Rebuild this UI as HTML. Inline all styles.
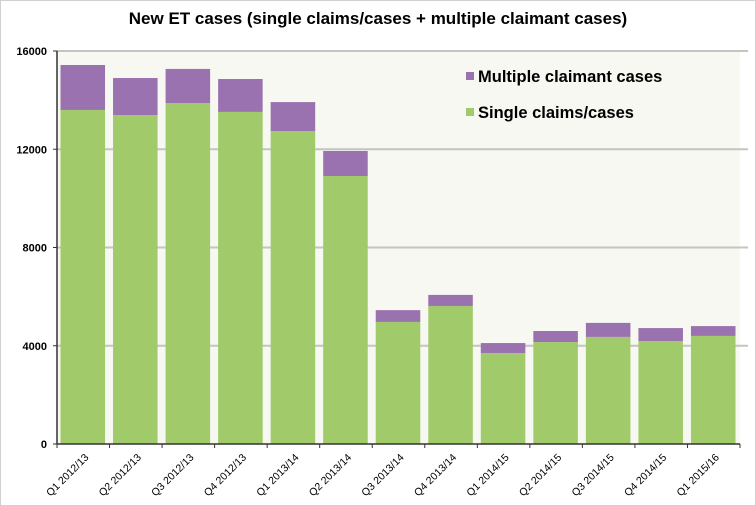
<!DOCTYPE html>
<html><head><meta charset="utf-8"><style>
body{margin:0;background:#fff;}
svg{display:block;font-family:"Liberation Sans",sans-serif;}
</style></head><body>
<svg id="chart" width="756" height="506">
<rect x="0.5" y="0.5" width="755" height="505" fill="#fff" stroke="#d0d0d0"/>
<text x="378" y="24" text-anchor="middle" font-size="17" font-weight="bold" fill="#000">New ET cases (single claims/cases + multiple claimant cases)</text>
<rect x="57" y="51" width="683" height="393" fill="#f6f8f1"/>
<g id="grid"></g>
<g id="bars"></g>
<g id="axes"></g>
<g>
<rect x="466" y="72" width="8" height="8" fill="#9b72b0"/>
<text x="478" y="82" font-size="16.5" font-weight="bold">Multiple claimant cases</text>
<rect x="466" y="108" width="8" height="8" fill="#a1ca6a"/>
<text x="478" y="118" font-size="16.5" font-weight="bold">Single claims/cases</text>
</g>
</svg>
<script>
const categories=["Q1 2012/13","Q2 2012/13","Q3 2012/13","Q4 2012/13","Q1 2013/14","Q2 2013/14","Q3 2013/14","Q4 2013/14","Q1 2014/15","Q2 2014/15","Q3 2014/15","Q4 2014/15","Q1 2015/16"];
const singleCases=[13600,13390,13880,13520,12740,10910,4970,5620,3700,4150,4360,4190,4400];
const multipleCases=[1830,1510,1390,1340,1180,1020,480,450,410,450,570,530,400];
const yTicks=[0,4000,8000,12000,16000];
const NS="http://www.w3.org/2000/svg";
const X0=57,X1=740,Y0=444,Y1=51,YMAX=16000;
const slot=(X1-X0)/categories.length;
function y(v){return Y0-(v/YMAX)*(Y0-Y1);}
function xs(i){return X0+i*slot;}
function mk(tag,attrs,parent){const e=document.createElementNS(NS,tag);for(const k in attrs)e.setAttribute(k,attrs[k]);parent.appendChild(e);return e;}
const grid=document.getElementById('grid'),bars=document.getElementById('bars'),axes=document.getElementById('axes');
yTicks.forEach(t=>{
  if(t>0){const g=mk('line',{x1:X0,x2:X1+8,y1:y(t),y2:y(t),stroke:'#c4c4c4','stroke-width':2},grid);
  
  }
  const tk=mk('line',{x1:X0-4,x2:X0,y1:y(t),y2:y(t),stroke:'#333'},axes);
  
  
  const lb=mk('text',{x:X0-10,y:y(t)+4,'text-anchor':'end','font-size':11,'font-weight':'bold'},axes);
  lb.textContent=t;
  
  
});
categories.forEach((c,i)=>{
  const bx=xs(i)+3.5,bw=slot-8;
  const s=mk('rect',{x:bx,y:y(singleCases[i]),width:bw,height:Y0-y(singleCases[i]),fill:'#a1ca6a'},bars);
  
  
  const top=singleCases[i]+multipleCases[i];
  const m=mk('rect',{x:bx,y:y(top),width:bw,height:y(singleCases[i])-y(top),fill:'#9b72b0'},bars);
  
  
  const tk=mk('line',{x1:xs(i),x2:xs(i),y1:Y0,y2:Y0+4,stroke:'#333'},axes);
  
  
  const cx=xs(i)+slot/2+6,cy=Y0+14;
  const lb=mk('text',{x:cx,y:cy,'text-anchor':'end','font-size':10.5,transform:`rotate(-45 ${cx} ${cy})`},axes);
  lb.textContent=c;
  
  
});
const lt=mk('line',{x1:X1,x2:X1,y1:Y0,y2:Y0+4,stroke:'#333'},axes);


const ya=mk('line',{x1:X0,x2:X0,y1:Y1,y2:Y0,stroke:'#333','stroke-width':1.5},axes);


const xa=mk('line',{x1:X0,x2:X1,y1:Y0,y2:Y0,stroke:'#333','stroke-width':1.5},axes);


</script>
</body></html>
